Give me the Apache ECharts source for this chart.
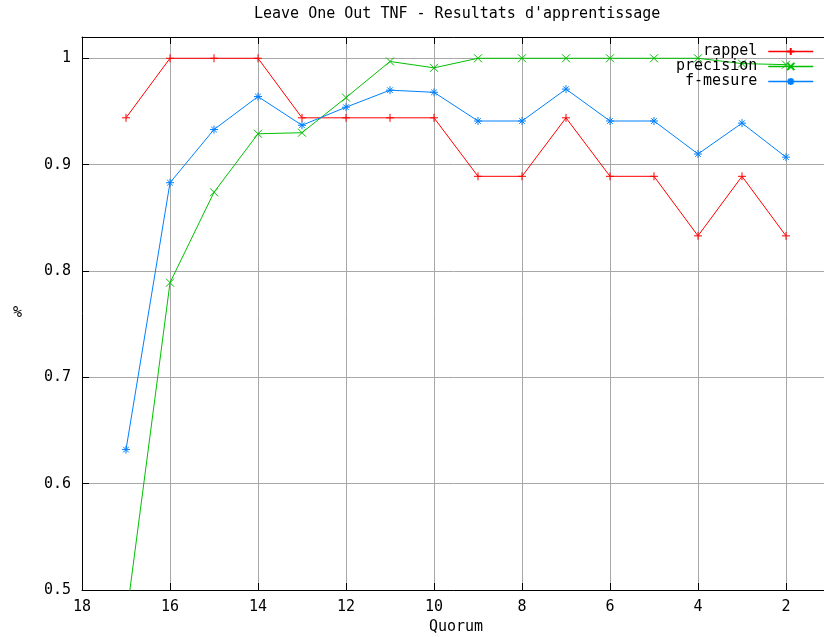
<!DOCTYPE html>
<html>
<head>
<meta charset="utf-8">
<script src="https://cdn.jsdelivr.net/npm/echarts@6/dist/echarts.min.js"></script>
<style>html,body{margin:0;padding:0;background:#fff}#c{width:824px;height:637px}</style>
</head>
<body>
<div id="c"></div>
<script>
var quorum = [17, 16, 15, 14, 13, 12, 11, 10, 9, 8, 7, 6, 5, 4, 3, 2];
var rappel = [0.944, 1, 1, 1, 0.944, 0.944, 0.944, 0.944, 0.889, 0.889, 0.944, 0.889, 0.889, 0.833, 0.889, 0.833];
var precision = [0.472, 0.789, 0.874, 0.929, 0.930, 0.963, 0.997, 0.991, 1, 1, 1, 1, 1, 1, 0.995, 0.994];
var fmesure = [0.632, 0.883, 0.933, 0.964, 0.937, 0.954, 0.970, 0.968, 0.941, 0.941, 0.971, 0.941, 0.941, 0.910, 0.939, 0.907];
var xTicks = [2, 4, 6, 8, 10, 12, 14, 16, 18];
var seriesNames = ['rappel', 'precision', 'f-mesure'];

var FONT = 'DejaVu Sans Mono';
function pairs(vals) { return quorum.map(function (q, i) { return [q, vals[i]]; }); }

var symPlus = 'path://M0,5L10,5M5,0L5,10';
var symX = 'path://M0,0L10,10M10,0L0,10';
var symStar = 'path://M0,5L10,5M5,0L5,10M1.5,1.5L8.5,8.5M8.5,1.5L1.5,8.5';

function mkSeries(name, vals, color, sym) {
  return {
    name: name, type: 'line', data: pairs(vals),
    symbol: sym, symbolSize: 8, showAllSymbol: true,
    lineStyle: { color: color, width: 1 },
    itemStyle: { color: color, borderColor: color, borderWidth: 1 },
    emphasis: { disabled: true },
    clip: true
  };
}

var chart = echarts.init(document.getElementById('c'), null, { renderer: 'canvas' });
chart.setOption({
  animation: false,
  backgroundColor: '#fff',
  title: {
    text: "Leave One Out TNF - Resultats d'apprentissage",
    left: 254, top: 7, padding: 0,
    textStyle: { fontFamily: FONT, fontSize: 15, fontWeight: 'normal', color: '#000' }
  },
  legend: {
    orient: 'vertical', right: 10, top: 44, padding: 0,
    align: 'right', itemWidth: 45, itemHeight: 9, itemGap: 0,
    data: seriesNames,
    selectedMode: false,
    lineStyle: { width: 1.5 },
    formatter: '{a|{name}}',
    textStyle: {
      fontFamily: FONT, fontSize: 15, color: '#000', lineHeight: 15,
      rich: { a: { fontFamily: FONT, fontSize: 15, width: 87, align: 'right', lineHeight: 15, padding: [0, 6, 0, 0] } }
    }
  },
  grid: { left: 82, top: 37, width: 748, height: 553, containLabel: false, outerBoundsMode: 'none' },
  xAxis: [{
    type: 'value', inverse: true, min: 1, max: 18, position: 'bottom',
    name: 'Quorum', nameLocation: 'middle', nameGap: 30,
    nameTextStyle: { fontFamily: FONT, fontSize: 15, color: '#000' },
    axisLine: { show: true, onZero: false, lineStyle: { color: '#000', width: 1 } },
    axisTick: { show: true, inside: true, length: 7, lineStyle: { color: '#000' }, customValues: xTicks },
    axisLabel: { fontFamily: FONT, fontSize: 15, color: '#000', margin: 10, customValues: xTicks },
    splitLine: { show: true, lineStyle: { color: '#a8a8a8', width: 1 } }
  }, {
    type: 'value', inverse: true, min: 1, max: 18, position: 'top',
    axisLine: { show: true, onZero: false, lineStyle: { color: '#000', width: 1 } },
    axisTick: { show: true, inside: true, length: 7, lineStyle: { color: '#000' }, customValues: xTicks },
    axisLabel: { show: false },
    splitLine: { show: false }
  }],
  yAxis: {
    type: 'value', min: 0.5, max: 1.02, interval: 0.1,
    name: '%', nameLocation: 'middle', nameGap: 60, nameRotate: 0,
    nameTextStyle: { fontFamily: FONT, fontSize: 15, color: '#000' },
    axisLine: { show: true, onZero: false, lineStyle: { color: '#000', width: 1 } },
    axisTick: { show: true, inside: true, length: 7, lineStyle: { color: '#000' } },
    axisLabel: { fontFamily: FONT, fontSize: 15, color: '#000', margin: 11, showMaxLabel: false },
    splitLine: { show: true, lineStyle: { color: '#a8a8a8', width: 1 } }
  },
  series: [
    mkSeries(seriesNames[0], rappel, '#ff0000', symPlus),
    mkSeries(seriesNames[1], precision, '#00c000', symX),
    mkSeries(seriesNames[2], fmesure, '#0080ff', symStar)
  ]
});
</script>
</body>
</html>
